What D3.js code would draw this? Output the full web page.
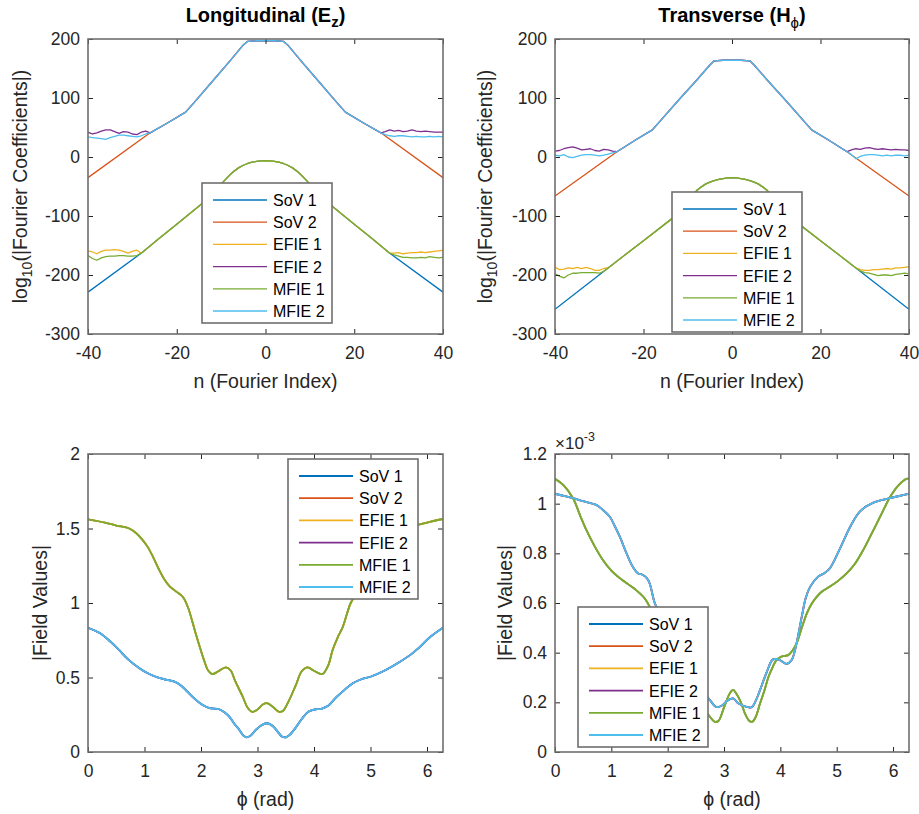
<!DOCTYPE html>
<html>
<head>
<meta charset="utf-8">
<script src="https://cdn.jsdelivr.net/npm/d3@7"></script>
<style>
  body { margin: 0; background: #fff; }
  text { font-family: "Liberation Sans", Arial, Helvetica, sans-serif; }
</style>
</head>
<body>
<div id="fig"></div>
<script>
// ---- data ----

var seriesNames = ["SoV 1", "SoV 2", "EFIE 1", "EFIE 2", "MFIE 1", "MFIE 2"];
var seriesColors = ["#0072BD", "#D95319", "#EDB120", "#7E2F8E", "#77AC30", "#4DBEEE"];

// Fourier index ranges for the flat "noise floor" parts
var nUpLeft = d3.range(-40, -26);   // -40..-27
var nUpRight = d3.range(27, 41);    // 27..40
var nLowLeft = d3.range(-40, -28);  // -40..-29
var nLowRight = d3.range(29, 41);   // 29..40

// Longitudinal (Ez) spectrum
var ezUpperN = [-26, -22, -18, -16, -12, -8, -5, -4, -2, 0, 2, 4, 5, 8, 12, 16, 18, 22, 26];
var ezUpper = [41, 58, 76, 93, 128, 163, 190, 196, 197, 197, 197, 196, 190, 163, 128, 93, 76, 58, 41];
var ezLowerN = [-28, -24, -20, -14, -12, -11, -10, -9, -8, -7, -6, -5, -4, -3, -2, -1, 0, 1, 2, 3, 4, 5, 6, 7, 8, 9, 10, 11, 12, 14, 20, 24, 28];
var ezLower = [-163, -138, -114, -77, -65, -55, -46, -38, -30, -23.5, -18, -14, -11, -8.8, -7.3, -6.4, -6, -6.4, -7.3, -8.8, -11, -14, -18, -23.5, -30, -38, -46, -55, -65, -77, -114, -138, -163];
var ezSov1Ends = [-229, -229];
var ezSov2Ends = [-35, -35];
var ezEfie1Left = [-159, -161, -164, -160, -158, -158, -157, -158, -160, -163, -160, -158];
var ezEfie1Right = [-163, -162, -164, -163, -162, -162, -161, -162, -161, -160, -159, -158];
var ezMfie1Left = [-167, -172, -175, -171, -169, -168, -168, -167, -167, -168, -168, -167];
var ezMfie1Right = [-166, -168, -170, -170, -171, -171, -170, -171, -169, -170, -171, -170];
var ezEfie2Left = [42, 39, 41, 44, 46, 46, 43, 40, 43, 42, 39, 38, 42, 44];
var ezEfie2Right = [43, 46, 44, 45, 43, 44, 46, 44, 43, 44, 43, 42, 42, 42];
var ezMfie2Left = [34, 33, 32, 31, 30, 33, 35, 37, 37, 36, 35, 34, 36, 39];
var ezMfie2Right = [38, 36, 35, 36, 36, 35, 34, 35, 34, 34, 35, 34, 35, 34];

// Transverse (Hphi) spectrum
var hpUpperN = [-26, -22, -18, -16, -12, -8, -5, -4, -2, 0, 2, 4, 5, 8, 12, 16, 18, 22, 26];
var hpUpper = [9, 28, 46, 63, 97, 130, 156, 163, 164, 164, 164, 163, 156, 130, 97, 63, 46, 28, 9];
var hpLowerN = [-28, -24, -20, -14, -11, -10, -9, -8, -7, -6, -5, -4, -3, -2, -1, 0, 1, 2, 3, 4, 5, 6, 7, 8, 9, 10, 11, 14, 20, 24, 28];
var hpLower = [-188, -165, -142, -107, -90, -78, -66, -57, -51, -46, -42.5, -40, -38, -36.5, -35.5, -35, -35.5, -36.5, -38, -40, -42.5, -46, -51, -57, -66, -78, -90, -107, -142, -165, -188];
var hpSov1Ends = [-258, -258];
var hpSov2Ends = [-66, -66];
var hpEfie1Left = [-187, -191, -190, -188, -189, -187, -189, -187, -189, -192, -192, -189];
var hpEfie1Right = [-191, -192, -192, -191, -191, -190, -189, -190, -188, -188, -187, -186];
var hpMfie1Left = [-198, -202, -205, -200, -197, -197, -196, -196, -196, -196, -197, -194];
var hpMfie1Right = [-193, -196, -197, -199, -201, -200, -200, -201, -199, -198, -197, -198];
var hpEfie2Left = [10, 11, 14, 16, 17, 15, 12, 13, 14, 11, 10, 13, 12, 10];
var hpEfie2Right = [12, 14, 13, 15, 16, 14, 13, 14, 13, 12, 13, 12, 12, 11];
var hpMfie2Left = [3, 2, 4, 0, -1, 1, 3, 4, 4, 3, 2, 3, 5, 7];
var hpMfie2Right = [4, -3, 1, 3, 4, 4, 3, 2, 3, 2, 3, 3, 2, 3];

// |Ez| field values vs phi
var phiEzA = [0, 0.3, 0.5, 0.73, 0.85, 0.95, 1.05, 1.15, 1.25, 1.35, 1.45, 1.55, 1.68, 1.78, 1.85, 1.95, 2.05, 2.13, 2.2, 2.3, 2.44, 2.53, 2.6, 2.74, 2.82, 2.9, 3.0, 3.1, 3.18, 3.28, 3.38, 3.45, 3.55, 3.68, 3.78, 3.89, 4.0, 4.15, 4.25, 4.33, 4.42, 4.51, 4.65, 4.75, 4.87, 5.0, 5.15, 5.3, 5.5, 5.8, 6.0, 6.283];
var fieldEzA = [1.562, 1.54, 1.52, 1.50, 1.47, 1.43, 1.38, 1.31, 1.23, 1.16, 1.11, 1.08, 1.04, 0.96, 0.87, 0.74, 0.62, 0.545, 0.523, 0.54, 0.568, 0.545, 0.48, 0.37, 0.30, 0.27, 0.285, 0.32, 0.327, 0.30, 0.27, 0.275, 0.34, 0.45, 0.54, 0.568, 0.545, 0.523, 0.58, 0.685, 0.77, 0.84, 1.0, 1.06, 1.10, 1.19, 1.32, 1.42, 1.49, 1.52, 1.54, 1.564];
var phiEzB = [0, 0.2, 0.4, 0.55, 0.7, 0.91, 1.05, 1.2, 1.35, 1.53, 1.65, 1.73, 1.85, 2.03, 2.15, 2.32, 2.42, 2.5, 2.6, 2.68, 2.75, 2.81, 2.88, 2.97, 3.07, 3.17, 3.27, 3.37, 3.44, 3.5, 3.57, 3.67, 3.8, 3.9, 4.0, 4.13, 4.25, 4.4, 4.55, 4.68, 4.85, 5.0, 5.27, 5.5, 5.7, 5.86, 6.05, 6.283];
var fieldEzB = [0.834, 0.80, 0.74, 0.685, 0.625, 0.562, 0.53, 0.505, 0.488, 0.472, 0.445, 0.416, 0.37, 0.315, 0.295, 0.287, 0.265, 0.237, 0.185, 0.148, 0.11, 0.099, 0.11, 0.148, 0.18, 0.193, 0.175, 0.13, 0.102, 0.099, 0.115, 0.16, 0.23, 0.27, 0.285, 0.29, 0.31, 0.37, 0.42, 0.46, 0.49, 0.505, 0.55, 0.60, 0.65, 0.70, 0.77, 0.834];

// |Hphi| field values vs phi (units of 1e-3)
var phiHpF = [0, 0.15, 0.32, 0.45, 0.556, 0.7, 0.85, 1.0, 1.15, 1.3, 1.44, 1.59, 1.68, 1.8, 1.9, 2.1, 2.3, 2.5, 2.65, 2.75, 2.83, 2.9, 3.0, 3.1, 3.16, 3.22, 3.3, 3.37, 3.45, 3.5, 3.56, 3.64, 3.72, 3.79, 3.86, 3.93, 4.03, 4.14, 4.22, 4.29, 4.38, 4.47, 4.55, 4.645, 4.75, 4.88, 5.03, 5.18, 5.33, 5.47, 5.6, 5.71, 5.83, 5.95, 6.1, 6.24, 6.283];
var fieldHpF = [1.10, 1.075, 1.022, 0.95, 0.894, 0.83, 0.773, 0.73, 0.70, 0.675, 0.652, 0.619, 0.585, 0.53, 0.46, 0.35, 0.27, 0.22, 0.17, 0.142, 0.122, 0.125, 0.18, 0.235, 0.25, 0.235, 0.2, 0.156, 0.125, 0.122, 0.14, 0.196, 0.25, 0.303, 0.34, 0.37, 0.385, 0.39, 0.41, 0.438, 0.50, 0.558, 0.595, 0.625, 0.648, 0.666, 0.69, 0.72, 0.76, 0.813, 0.87, 0.92, 0.975, 1.028, 1.075, 1.10, 1.10];
var phiHpS = [0, 0.32, 0.5, 0.73, 0.85, 0.97, 1.06, 1.15, 1.27, 1.38, 1.47, 1.56, 1.63, 1.68, 1.77, 1.83, 1.9, 2.1, 2.3, 2.5, 2.65, 2.75, 2.86, 2.95, 3.05, 3.16, 3.25, 3.4, 3.49, 3.56, 3.64, 3.76, 3.87, 3.99, 4.11, 4.2, 4.26, 4.38, 4.45, 4.53, 4.67, 4.78, 4.88, 5.06, 5.24, 5.41, 5.65, 5.95, 6.283];
var fieldHpS = [1.04, 1.022, 1.01, 0.995, 0.975, 0.948, 0.91, 0.867, 0.80, 0.746, 0.72, 0.713, 0.70, 0.679, 0.60, 0.572, 0.53, 0.43, 0.36, 0.30, 0.24, 0.209, 0.182, 0.185, 0.205, 0.216, 0.196, 0.182, 0.18, 0.205, 0.25, 0.323, 0.373, 0.37, 0.355, 0.37, 0.41, 0.545, 0.62, 0.666, 0.706, 0.72, 0.74, 0.82, 0.907, 0.968, 1.004, 1.022, 1.04];

var nTicks = [-40, -20, 0, 20, 40];
var logTicks = [-300, -200, -100, 0, 100, 200];
var phiTicks = [0, 1, 2, 3, 4, 5, 6];
var ezFieldTicks = [0, 0.5, 1, 1.5, 2];
var hpFieldTicks = [0, 0.2, 0.4, 0.6, 0.8, 1, 1.2];

// ---- build series lists (one per panel, in legend order) ----

function join(a, b, c) { return a.concat(b, c); }

var ezSpectrum = [
  { x: join([-40], ezLowerN, [40]), y: join([ezSov1Ends[0]], ezLower, [ezSov1Ends[1]]) },
  { x: join([-40], ezUpperN, [40]), y: join([ezSov2Ends[0]], ezUpper, [ezSov2Ends[1]]) },
  { x: join(nLowLeft, ezLowerN, nLowRight), y: join(ezEfie1Left, ezLower, ezEfie1Right) },
  { x: join(nUpLeft, ezUpperN, nUpRight), y: join(ezEfie2Left, ezUpper, ezEfie2Right) },
  { x: join(nLowLeft, ezLowerN, nLowRight), y: join(ezMfie1Left, ezLower, ezMfie1Right) },
  { x: join(nUpLeft, ezUpperN, nUpRight), y: join(ezMfie2Left, ezUpper, ezMfie2Right) }
];

var hpSpectrum = [
  { x: join([-40], hpLowerN, [40]), y: join([hpSov1Ends[0]], hpLower, [hpSov1Ends[1]]) },
  { x: join([-40], hpUpperN, [40]), y: join([hpSov2Ends[0]], hpUpper, [hpSov2Ends[1]]) },
  { x: join(nLowLeft, hpLowerN, nLowRight), y: join(hpEfie1Left, hpLower, hpEfie1Right) },
  { x: join(nUpLeft, hpUpperN, nUpRight), y: join(hpEfie2Left, hpUpper, hpEfie2Right) },
  { x: join(nLowLeft, hpLowerN, nLowRight), y: join(hpMfie1Left, hpLower, hpMfie1Right) },
  { x: join(nUpLeft, hpUpperN, nUpRight), y: join(hpMfie2Left, hpUpper, hpMfie2Right) }
];

// upper curve (A): SoV 2, EFIE 1, MFIE 1 ; lower curve (B): SoV 1, EFIE 2, MFIE 2
var ezField = [
  { x: phiEzB, y: fieldEzB }, { x: phiEzA, y: fieldEzA },
  { x: phiEzA, y: fieldEzA }, { x: phiEzB, y: fieldEzB },
  { x: phiEzA, y: fieldEzA }, { x: phiEzB, y: fieldEzB }
];

// fast-dropping (F): SoV 1, EFIE 1, MFIE 1 ; slow (S): SoV 2, EFIE 2, MFIE 2
var hpField = [
  { x: phiHpF, y: fieldHpF }, { x: phiHpS, y: fieldHpS },
  { x: phiHpF, y: fieldHpF }, { x: phiHpS, y: fieldHpS },
  { x: phiHpF, y: fieldHpF }, { x: phiHpS, y: fieldHpS }
];

// ---- drawing ----

var W = 919, H = 814;
var svg = d3.select("#fig").append("svg")
    .attr("width", W)
    .attr("height", H);

var tickFont = 17.5, labelFont = 19.5, titleFont = 20, legendFont = 16;
var ink = "#262626";
var clipId = 0;

function drawPanel(p) {
  var g = svg.append("g").attr("transform", "translate(" + p.left + "," + p.top + ")");
  var x = d3.scaleLinear().domain(p.xDomain).range([0, p.w]);
  var y = d3.scaleLinear().domain(p.yDomain).range([p.h, 0]);

  clipId++;
  g.append("clipPath").attr("id", "clip" + clipId)
    .append("rect").attr("width", p.w).attr("height", p.h);

  var line = d3.line()
      .x(function(d) { return x(d[0]); })
      .y(function(d) { return y(d[1]); })
      .curve(p.curve);

  var plot = g.append("g").attr("clip-path", "url(#clip" + clipId + ")");
  p.series.forEach(function(s, i) {
    var pts = s.x.map(function(v, k) { return [v, s.y[k]]; });
    plot.append("path")
      .attr("d", line(pts))
      .attr("fill", "none")
      .attr("stroke", seriesColors[i])
      .attr("stroke-width", p.lineWidth)
      .attr("stroke-linejoin", "round");
  });

  // axes with inward ticks on all four sides
  var fmt = function(d) { return String(d); };
  var xb = g.append("g").attr("transform", "translate(0," + p.h + ")")
    .call(d3.axisBottom(x).tickValues(p.xTicks).tickFormat(fmt).tickSize(-5).tickPadding(13));
  var yl = g.append("g")
    .call(d3.axisLeft(y).tickValues(p.yTicks).tickFormat(fmt).tickSize(-5).tickPadding(8));
  var xt = g.append("g")
    .call(d3.axisTop(x).tickValues(p.xTicks).tickFormat("").tickSize(-5));
  var yr = g.append("g").attr("transform", "translate(" + p.w + ",0)")
    .call(d3.axisRight(y).tickValues(p.yTicks).tickFormat("").tickSize(-5));

  [xb, yl, xt, yr].forEach(function(a) {
    a.select(".domain").remove();
    a.selectAll("line").attr("stroke", ink).attr("stroke-width", 1);
    a.selectAll("text").attr("fill", ink).style("font-size", tickFont + "px")
      .style("font-family", "'Liberation Sans', Arial, sans-serif");
  });

  g.append("rect")
    .attr("width", p.w).attr("height", p.h)
    .attr("fill", "none")
    .attr("stroke", "#6f6f6f")
    .attr("stroke-width", 1.6);

  // x label
  g.append("text")
    .attr("x", p.w / 2).attr("y", p.h + 54)
    .attr("text-anchor", "middle")
    .attr("fill", ink)
    .style("font-size", labelFont + "px")
    .text(p.xLabel);

  // y label
  var yt = g.append("text")
    .attr("transform", "translate(" + p.yLabelX + "," + (p.h / 2) + ") rotate(-90)")
    .attr("text-anchor", "middle")
    .attr("fill", ink)
    .style("font-size", labelFont + "px");
  p.yLabel.forEach(function(part) {
    yt.append("tspan")
      .attr("dy", part.dy || 0)
      .style("font-size", part.sub ? "14px" : null)
      .text(part.t);
  });

  // title
  if (p.title) {
    var tt = g.append("text")
      .attr("x", p.w / 2).attr("y", -17)
      .attr("text-anchor", "middle")
      .attr("fill", "#000")
      .style("font-size", titleFont + "px")
      .style("font-weight", "bold");
    p.title.forEach(function(part) {
      tt.append("tspan")
        .attr("dy", part.dy || 0)
        .style("font-size", part.sub ? "15px" : null)
        .style("font-weight", part.plain ? "normal" : null)
        .text(part.t);
    });
  }

  // exponent label
  if (p.exponent) {
    var ex = g.append("text")
      .attr("x", 0).attr("y", -5)
      .attr("fill", ink)
      .style("font-size", "17px");
    ex.append("tspan").text("\u00d710");
    ex.append("tspan").attr("dy", -8).style("font-size", "12.5px").text("-3");
  }

  // legend
  var lg = g.append("g").attr("transform", "translate(" + p.legend[0] + "," + p.legend[1] + ")");
  lg.append("rect")
    .attr("width", 130).attr("height", 140)
    .attr("fill", "#fff")
    .attr("stroke", "#6f6f6f")
    .attr("stroke-width", 1.6);
  seriesNames.forEach(function(name, i) {
    var cy = 17 + i * 22.2;
    lg.append("line")
      .attr("x1", 11).attr("x2", 65)
      .attr("y1", cy).attr("y2", cy)
      .attr("stroke", seriesColors[i])
      .attr("stroke-width", p.lineWidth);
    lg.append("text")
      .attr("x", 71).attr("y", cy + 6)
      .attr("fill", "#000")
      .style("font-size", legendFont + "px")
      .text(name);
  });
}

var logLabel = [{ t: "log" }, { t: "10", sub: true, dy: 5 }, { t: "(|Fourier Coefficients|)", dy: -5 }];

drawPanel({
  left: 88, top: 39, w: 355, h: 295,
  xDomain: [-40, 40], yDomain: [-300, 200],
  xTicks: nTicks, yTicks: logTicks,
  series: ezSpectrum, curve: d3.curveLinear, lineWidth: 1.3,
  xLabel: "n (Fourier Index)", yLabel: logLabel, yLabelX: -61,
  title: [{ t: "Longitudinal (E" }, { t: "z", sub: true, dy: 5 }, { t: ")", dy: -5 }],
  legend: [114, 144]
});

drawPanel({
  left: 555, top: 39, w: 354, h: 295,
  xDomain: [-40, 40], yDomain: [-300, 200],
  xTicks: nTicks, yTicks: logTicks,
  series: hpSpectrum, curve: d3.curveLinear, lineWidth: 1.3,
  xLabel: "n (Fourier Index)", yLabel: logLabel, yLabelX: -63,
  title: [{ t: "Transverse (H" }, { t: "\u03d5", sub: true, plain: true, dy: 6 }, { t: ")", dy: -6 }],
  legend: [117, 153]
});

drawPanel({
  left: 88, top: 454, w: 355, h: 298,
  xDomain: [0, 2 * Math.PI], yDomain: [0, 2],
  xTicks: phiTicks, yTicks: ezFieldTicks,
  series: ezField, curve: d3.curveCatmullRom.alpha(0.5), lineWidth: 1.8,
  xLabel: "\u03d5 (rad)", yLabel: [{ t: "|Field Values|" }], yLabelX: -41,
  legend: [200, 5]
});

drawPanel({
  left: 555, top: 454, w: 354, h: 298,
  xDomain: [0, 2 * Math.PI], yDomain: [0, 1.2],
  xTicks: phiTicks, yTicks: hpFieldTicks,
  series: hpField, curve: d3.curveCatmullRom.alpha(0.5), lineWidth: 1.8,
  xLabel: "\u03d5 (rad)", yLabel: [{ t: "|Field Values|" }], yLabelX: -43,
  exponent: true,
  legend: [23, 153]
});
</script>
</body>
</html>
